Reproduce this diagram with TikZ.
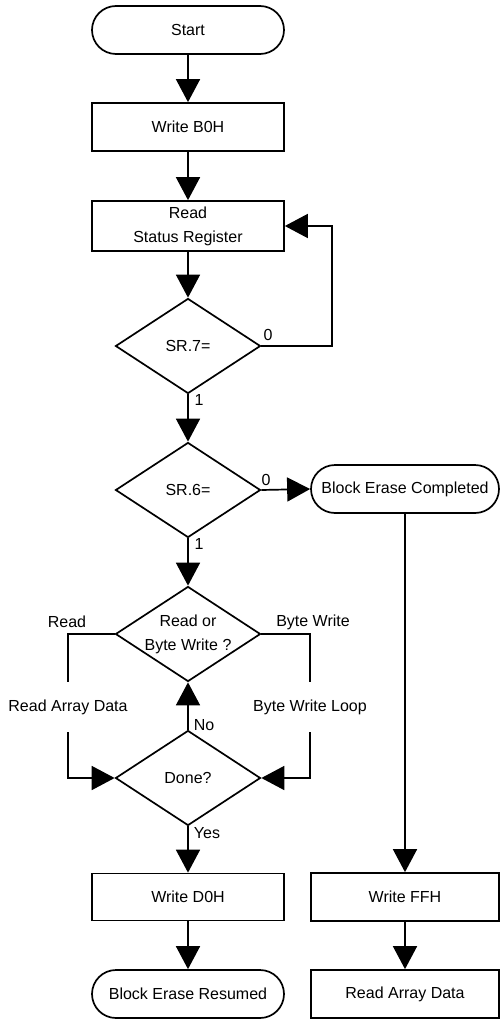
\documentclass[tikz,border=0pt]{standalone}
\usepackage{fontspec}
\setmainfont{Liberation Sans}
\usetikzlibrary{arrows.meta,shapes.geometric,shapes.misc}
\begin{document}
\begin{tikzpicture}[x=1pt,y=-1pt,
  every node/.style={font=\fontsize{16}{24}\selectfont},
  base/.style={draw,line width=1.7pt,inner sep=0pt,align=center},
  box/.style={base,rectangle,minimum width=192pt,minimum height=48pt},
  boxr/.style={base,rectangle,minimum width=188pt,minimum height=48pt},
  term/.style={base,rounded rectangle,minimum width=192pt,minimum height=48pt},
  termr/.style={base,rounded rectangle,minimum width=188pt,minimum height=48pt},
  dec/.style={base,diamond,aspect=1.5,minimum width=145pt,minimum height=95pt},
  gapnode/.style={inner sep=0pt,minimum height=50pt},
  lbl/.style={inner sep=0pt},
  link/.style={line width=1.7pt},
  flow/.style={line width=1.7pt,-{Triangle[length=23pt,width=24pt]}}
]
\useasboundingbox (0,0) rectangle (500,1019);
\node[term] (start) at (188,30) {Start};
\node[box] (b0h) at (188,127) {Write B0H};
\node[box,minimum height=50pt] (rsr) at (188,226) {Read\\Status Register};
\node[dec] (sr7) at (188,346) {SR.7=};
\node[dec] (sr6) at (188,490) {SR.6=};
\node[termr] (bec) at (405,489) {Block Erase Completed};
\node[dec,inner sep=-3pt] (rbw) at (188,634) {Read or\\Byte Write ?};
\node[dec] (done) at (188,778) {Done?};
\node[box,minimum height=47pt] (d0h) at (188,897) {Write D0H};
\node[term] (ber) at (188,994) {Block Erase Resumed};
\node[boxr] (ffh) at (405,897) {Write FFH};
\node[boxr] (rad) at (405,994) {Read Array Data};
\node[gapnode] (radl) at (68,707) {Read Array Data};
\node[gapnode] (bwl) at (310,707) {Byte Write Loop};
\coordinate (loopx) at (332,0);
% labels
\node[lbl] (l0a) at (268,335) {0};
\node[lbl] (l1a) at (199,400) {1};
\node[lbl] (l0b) at (266,480) {0};
\node[lbl] (l1b) at (199,544) {1};
\node[lbl] (lrd) at (67,622) {Read};
\node[lbl] (lbw) at (313,622) {Byte Write};
\node[lbl] (lno) at (204,725) {No};
\node[lbl] (lyes) at (207,833) {Yes};
% connectors
\draw[flow] (start) -- (b0h);
\draw[flow] (b0h) -- (rsr);
\draw[flow] (rsr) -- (sr7);
\draw[flow] (sr7.east) -| (loopx |- rsr.east) -- (rsr.east);
\draw[flow] (sr7.south) -- (sr6.north);
\draw[flow] (sr6.east) -- (bec.west);
\draw[flow] (sr6.south) -- (rbw.north);
\draw[link] (rbw.west) -| (radl.north);
\draw[flow] (radl.south) |- (done.west);
\draw[link] (rbw.east) -| (bwl.north);
\draw[flow] (bwl.south) |- (done.east);
\draw[flow] (done.north) -- (rbw.south);
\draw[flow] (done.south) -- (d0h.north);
\draw[flow] (d0h) -- (ber);
\draw[flow] (bec.south) -- (ffh.north);
\draw[flow] (ffh) -- (rad);
\end{tikzpicture}
\end{document}
